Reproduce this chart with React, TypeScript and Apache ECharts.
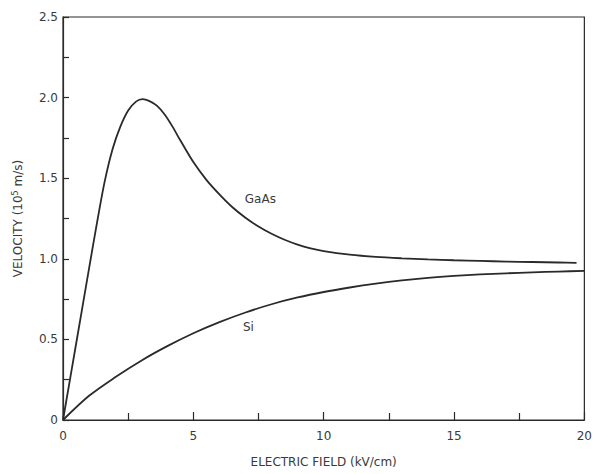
import React, { useEffect, useRef } from "react";
import * as echarts from "echarts";

const gaAsField = [0, 0.5, 1.0, 1.3, 1.6, 1.9, 2.2, 2.5, 2.8, 3.05, 3.3, 3.6, 3.9, 4.2, 4.5, 5.0, 5.5, 6.0, 6.5, 7.0, 7.5, 8.0, 8.5, 9.0, 9.5, 10, 11, 12, 13, 14, 15, 16, 17, 18, 19, 19.7];
const gaAsVelocity = [0, 0.47, 0.94, 1.22, 1.48, 1.68, 1.82, 1.92, 1.975, 1.99, 1.98, 1.95, 1.895, 1.82, 1.735, 1.6, 1.49, 1.4, 1.32, 1.255, 1.2, 1.155, 1.118, 1.088, 1.065, 1.048, 1.026, 1.012, 1.003, 0.996, 0.991, 0.987, 0.983, 0.98, 0.977, 0.975];

const siField = [0, 1, 2, 3, 4, 5, 6, 7, 8, 9, 10, 11, 12, 13, 14, 15, 16, 17, 18, 19, 20];
const siVelocity = [0, 0.15, 0.265, 0.368, 0.458, 0.538, 0.607, 0.667, 0.718, 0.76, 0.794, 0.822, 0.846, 0.866, 0.882, 0.894, 0.903, 0.91, 0.916, 0.921, 0.925];

const yTickLabels: Record<string, string> = { "0": "0", "0.5": "0.5", "1": "1.0", "1.5": "1.5", "2": "2.0", "2.5": "2.5" };
const xTickLabels: Record<string, string> = { "0": "0", "5": "5", "10": "10", "15": "15", "20": "20" };

const gaAsLabel = { text: "GaAs", field: 7.57, velocity: 1.37 };
const siLabel = { text: "Si", field: 7.11, velocity: 0.577 };

const FONT = "'DejaVu Sans', sans-serif";
const INK = "#2a2a2a";
const TEXT = "#3a3a3a";

export default function App() {
  const ref = useRef<HTMLDivElement>(null);
  useEffect(() => {
    if (!ref.current) return;
    const chart = echarts.init(ref.current, null, { renderer: "svg" });
    const pairs = (xs: number[], ys: number[]) => xs.map((x, i) => [x, ys[i]]);
    const lbl = (l: { text: string; field: number; velocity: number }) => ({
      symbol: "circle",
      symbolSize: 0,
      label: { show: true, position: "inside", formatter: l.text, color: TEXT, fontSize: 12, fontFamily: FONT },
      data: [{ coord: [l.field, l.velocity] }],
    });
    chart.setOption({
      animation: false,
      backgroundColor: "#ffffff",
      grid: { left: 63, top: 17, right: 6, bottom: 54, show: true, borderColor: INK, borderWidth: 1.2, backgroundColor: "transparent" },
      xAxis: {
        type: "value",
        min: 0,
        max: 20,
        interval: 5,
        name: "ELECTRIC FIELD (kV/cm)",
        nameLocation: "middle",
        nameGap: 36,
        nameTextStyle: { color: TEXT, fontSize: 12, fontFamily: FONT },
        axisLine: { show: true, lineStyle: { color: INK, width: 1.2 } },
        axisTick: { show: true, inside: true, length: 8, lineStyle: { color: INK, width: 1.2 } },
        minorTick: { show: true, splitNumber: 2, length: 7, lineStyle: { color: INK, width: 1.2 } },
        axisLabel: { color: TEXT, fontSize: 12, fontFamily: FONT, margin: 10, formatter: (v: number) => xTickLabels[String(v)] ?? "" },
        splitLine: { show: false },
      },
      yAxis: {
        type: "value",
        min: 0,
        max: 2.5,
        interval: 0.5,
        name: "VELOCITY (10{sup|5} m/s)",
        nameLocation: "middle",
        nameGap: 38,
        nameRotate: 90,
        nameTextStyle: {
          color: TEXT,
          fontSize: 12,
          fontFamily: FONT,
          rich: { sup: { fontSize: 8, verticalAlign: "top", color: TEXT, fontFamily: FONT, padding: [0, 0, 6, 0] } },
        },
        axisLine: { show: true, lineStyle: { color: INK, width: 1.2 } },
        axisTick: { show: true, inside: true, length: 6, lineStyle: { color: INK, width: 1.2 } },
        minorTick: { show: true, splitNumber: 2, length: 6, lineStyle: { color: INK, width: 1.2 } },
        axisLabel: { color: TEXT, fontSize: 12, fontFamily: FONT, margin: 5, formatter: (v: number) => yTickLabels[String(v)] ?? "" },
        splitLine: { show: false },
      },
      series: [
        {
          name: "GaAs",
          type: "line",
          data: pairs(gaAsField, gaAsVelocity),
          smooth: 0.3,
          showSymbol: false,
          lineStyle: { color: INK, width: 1.8 },
          markPoint: lbl(gaAsLabel),
        },
        {
          name: "Si",
          type: "line",
          data: pairs(siField, siVelocity),
          smooth: 0.3,
          showSymbol: false,
          lineStyle: { color: INK, width: 1.8 },
          markPoint: lbl(siLabel),
        },
      ],
    });
    return () => chart.dispose();
  }, []);
  return <div ref={ref} style={{ width: 595, height: 474, position: "absolute", left: 0, top: 0 }} />;
}
